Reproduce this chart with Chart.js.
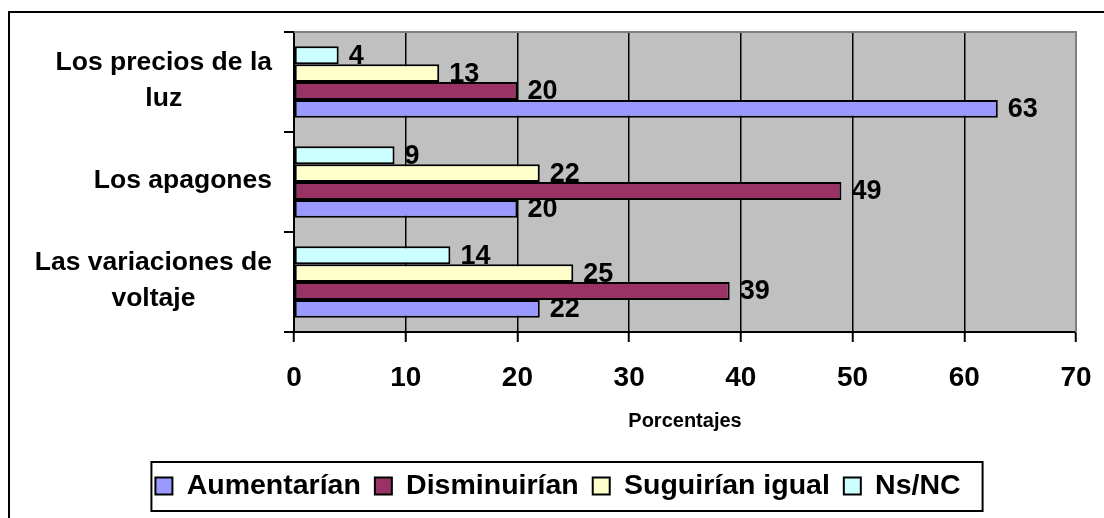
<!DOCTYPE html>
<html>
<head>
<meta charset="utf-8">
<script src="https://cdn.jsdelivr.net/npm/chart.js@4"></script>
<style>
  html, body { margin: 0; padding: 0; background: #fff; overflow: hidden; }
  #wrap { position: relative; width: 1104px; height: 518px; overflow: hidden; }
  #frame { position: absolute; left: 8px; top: 11px; width: 2000px; height: 2000px;
           border-left: 2px solid #000; border-top: 2px solid #000; }
  #c { position: absolute; left: 0; top: 0; }
</style>
</head>
<body>
<div id="wrap">
  <div id="frame"></div>
  <canvas id="c" width="1104" height="518"></canvas>
</div>
<script>
// ---- data ----
const categories = [
  ['Los precios de la', 'luz'],
  ['Los apagones'],
  ['Las variaciones de', 'voltaje']
];
const seriesNames = ['Aumentarían', 'Disminuirían', 'Suguirían igual', 'Ns/NC'];
const aumentarian  = [63, 20, 22];
const disminuirian = [20, 49, 39];
const suguirian    = [13, 22, 25];
const nsnc         = [4, 9, 14];
const xTicks = [0, 10, 20, 30, 40, 50, 60, 70];
const axisTitle = 'Porcentajes';

const colors = ['#9999FF', '#993366', '#FFFFCC', '#CCFFFF'];
const FONT = "'Liberation Sans', Arial, sans-serif";
const PLOT_BG = '#C0C0C0';

const seriesValues = [aumentarian, disminuirian, suguirian, nsnc];
// draw order top→bottom inside each group: Ns/NC, Suguirían, Disminuirían, Aumentarían
const order = [3, 2, 1, 0];
const datasets = order.map(i => ({
  label: seriesNames[i],
  data: seriesValues[i],
  backgroundColor: colors[i],
  borderColor: '#000',
  borderWidth: 2,
  borderSkipped: false,
  barPercentage: 1.0,
  categoryPercentage: 0.715
}));

const decor = {
  id: 'decor',
  beforeDraw(chart) {
    const {ctx, chartArea: a} = chart;
    ctx.save();
    ctx.fillStyle = PLOT_BG;
    ctx.fillRect(a.left, a.top, a.right - a.left, a.bottom - a.top);
    ctx.restore();
  },
  beforeDatasetsDraw(chart) {
    const {ctx, chartArea: a} = chart;
    ctx.save();
    ctx.strokeStyle = '#808080';
    ctx.lineWidth = 2;
    ctx.beginPath();
    ctx.moveTo(a.left, a.top);
    ctx.lineTo(a.right, a.top);
    ctx.lineTo(a.right, a.bottom);
    ctx.stroke();
    ctx.restore();
  },
  afterDatasetsDraw(chart) {
    const {ctx} = chart;
    ctx.save();
    ctx.font = 'bold 27px ' + FONT;
    ctx.fillStyle = '#000';
    ctx.textAlign = 'left';
    ctx.textBaseline = 'middle';
    chart.data.datasets.forEach((ds, i) => {
      const meta = chart.getDatasetMeta(i);
      meta.data.forEach((bar, j) => {
        ctx.fillText(String(ds.data[j]), bar.x + 10, bar.y + 1);
      });
    });
    ctx.restore();
  },
  afterDraw(chart) {
    const {ctx, chartArea: a} = chart;
    const ys = chart.scales.y;
    ctx.save();
    ctx.font = 'bold 26.5px ' + FONT;
    ctx.fillStyle = '#000';
    ctx.textAlign = 'center';
    ctx.textBaseline = 'middle';
    categories.forEach((lines, i) => {
      const cy = ys.getPixelForValue(i);
      const maxW = Math.max(...lines.map(l => ctx.measureText(l).width));
      const cx = a.left - 22 - maxW / 2;
      const n = lines.length;
      lines.forEach((l, k) => {
        ctx.fillText(l, cx, cy - 1 + (k - (n - 1) / 2) * 36);
      });
    });
    // legend frame
    const hb = chart.legend.legendHitBoxes;
    if (hb && hb.length) {
      const minL = Math.min(...hb.map(h => h.left));
      const maxR = Math.max(...hb.map(h => h.left + h.width));
      const cy = hb[0].top + hb[0].height / 2;
      ctx.strokeStyle = '#000';
      ctx.lineWidth = 2;
      ctx.strokeRect(minL - 4, cy - 24, (maxR + 22) - (minL - 4), 49);
    }
    ctx.restore();
  }
};

new Chart(document.getElementById('c'), {
  type: 'bar',
  data: { labels: categories.map(l => l.join(' ')), datasets },
  plugins: [decor],
  options: {
    indexAxis: 'y',
    responsive: false,
    animation: false,
    devicePixelRatio: 1,
    layout: { padding: { left: 40, right: 28, top: 32, bottom: 7.75 } },
    scales: {
      x: {
        type: 'linear',
        min: 0, max: 70,
        afterBuildTicks(scale) { scale.ticks = xTicks.map(v => ({ value: v })); },
        afterFit(scale) {
          scale.height = 125.75;
          scale.paddingLeft = 16;
          scale.paddingRight = 16;
        },
        ticks: {
          color: '#000',
          font: { family: FONT, size: 28, weight: 'bold' },
          padding: 19,
          maxRotation: 0
        },
        grid: {
          color: (c) => (c.tick && c.tick.value === 70) ? 'rgba(0,0,0,0)' : '#000',
          tickColor: '#000',
          lineWidth: 1.5,
          tickWidth: 2,
          tickLength: 10
        },
        border: { color: '#000', width: 2 },
        title: {
          display: true,
          text: axisTitle,
          color: '#000',
          font: { family: FONT, size: 20, weight: 'bold' },
          padding: { top: 0, bottom: 24.75 }
        }
      },
      y: {
        type: 'category',
        offset: true,
        afterFit(scale) { scale.width = 254; },
        ticks: { display: false },
        grid: {
          offset: true,
          drawOnChartArea: false,
          color: '#000',
          lineWidth: 2,
          tickLength: 10
        },
        border: { color: '#000', width: 2 }
      }
    },
    plugins: {
      legend: {
        position: 'bottom',
        reverse: true,
        labels: {
          color: '#000',
          font: { family: FONT, size: 28.5, weight: 'bold' },
          boxWidth: 17,
          boxHeight: 17,
          padding: 14
        }
      },
      tooltip: { enabled: false },
      title: { display: false }
    }
  }
});
</script>
</body>
</html>
